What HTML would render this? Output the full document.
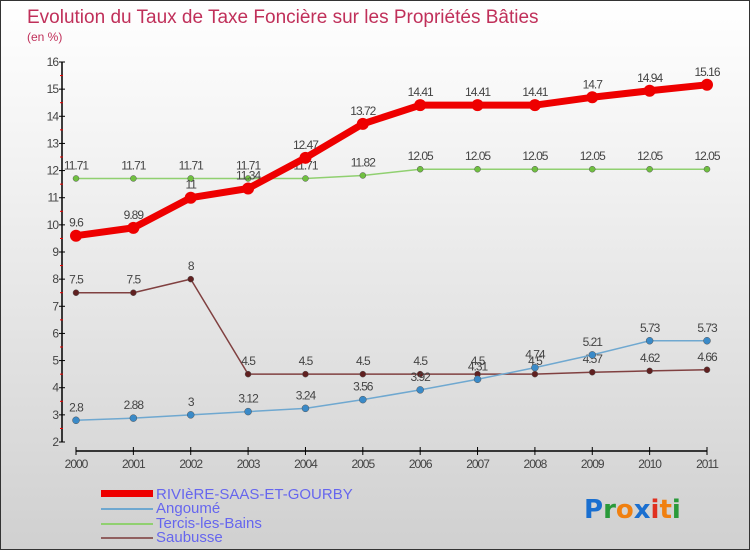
<!DOCTYPE html>
<html><head><meta charset="utf-8"><style>
body{margin:0}
#c{width:748px;height:548px;border:1px solid #333;background:linear-gradient(#fff,#f2f2f2 30%,#d0d0d0);position:relative;font-family:"Liberation Sans",sans-serif;overflow:hidden}
</style></head><body>
<div id="c">
<svg id="s" width="748" height="548" xmlns="http://www.w3.org/2000/svg">
<text x="26" y="22" font-size="19" fill="#c0305a">Evolution du Taux de Taxe Foncière sur les Propriétés Bâties</text>
<text x="26" y="40" font-size="12" fill="#c0305a">(en %)</text>
<g id="ax"></g><g id="ser"></g>
<g>
<rect x="100" y="489" width="52" height="7" fill="#e00"/>
<text x="155" y="498" font-size="15" fill="#6666ee">RIVIèRE-SAAS-ET-GOURBY</text>
<rect x="100" y="507" width="52" height="2" fill="#6fa8d0"/>
<text x="155" y="512" font-size="15" fill="#6666ee">Angoumé</text>
<rect x="100" y="522" width="52" height="2" fill="#90d070"/>
<text x="155" y="527" font-size="15" fill="#6666ee">Tercis-les-Bains</text>
<rect x="100" y="536" width="52" height="2" fill="#906060"/>
<text x="155" y="541" font-size="15" fill="#6666ee">Saubusse</text>
</g>
<g font-size="26" font-family="'DejaVu Sans',sans-serif" font-weight="bold">
<text x="583" y="517"><tspan fill="#1a6fd0">P</tspan><tspan fill="#2a9a3a">r</tspan><tspan fill="#f08010">o</tspan><tspan fill="#1a6fd0">x</tspan><tspan fill="#e03020">i</tspan><tspan fill="#f08010">t</tspan><tspan fill="#2a9a3a">i</tspan></text>
</g>
</svg></div>
<script>
const years=[2000,2001,2002,2003,2004,2005,2006,2007,2008,2009,2010,2011];
const riviere=[9.6,9.89,11,11.34,12.47,13.72,14.41,14.41,14.41,14.7,14.94,15.16];
const angoume=[2.8,2.88,3,3.12,3.24,3.56,3.92,4.31,4.74,5.21,5.73,5.73];
const tercis=[11.71,11.71,11.71,11.71,11.71,11.82,12.05,12.05,12.05,12.05,12.05,12.05];
const saubusse=[7.5,7.5,8,4.5,4.5,4.5,4.5,4.5,4.5,4.57,4.62,4.66];
const yTicks=[2,3,4,5,6,7,8,9,10,11,12,13,14,15,16];
const NS="http://www.w3.org/2000/svg";
const X=i=>75+i*(631/11);
const Y=v=>441-(v-2)*(380/14);
function mk(t,a,p){const e=document.createElementNS(NS,t);for(const k in a)e.setAttribute(k,a[k]);p.appendChild(e);return e;}
const ax=document.getElementById('ax'),ser=document.getElementById('ser');
const ya=mk('line',{x1:61,y1:Y(16),x2:61,y2:Y(2),stroke:'#000','stroke-width':1.5},ax);

const xa=mk('line',{x1:X(0),y1:450,x2:X(11),y2:450,stroke:'#000','stroke-width':1.5},ax);

yTicks.forEach(v=>{
 mk('line',{x1:58,y1:Y(v),x2:64,y2:Y(v),stroke:'#000'},ax);
 if(v<16)mk('line',{x1:59,y1:Y(v+0.5),x2:62,y2:Y(v+0.5),stroke:'#e00'},ax);
 const t=mk('text',{x:57,y:Y(v)+4,'text-anchor':'end','font-size':12,fill:'#444','letter-spacing':'-1'},ax);t.textContent=v;
 
});
years.forEach((y,i)=>{
 mk('line',{x1:X(i),y1:446,x2:X(i),y2:454,stroke:'#000'},ax);
 const t=mk('text',{x:X(i),y:467,'text-anchor':'middle','font-size':12,fill:'#444','letter-spacing':'-1'},ax);t.textContent=y;
 
});
function series(d,name,col,w,r,dot){
 const g=mk('g',{},ser);
 
 mk('polyline',{points:d.map((v,i)=>X(i)+','+Y(v)).join(' '),fill:'none',stroke:col,'stroke-width':w,'stroke-linejoin':'round'},g);
 d.forEach((v,i)=>{
  const c=mk('circle',{cx:X(i),cy:Y(v),r:r,fill:dot,stroke:'#555','stroke-width':r>4?0:0.5},g);
  
  const t=mk('text',{x:X(i),y:Y(v)-9,'text-anchor':'middle','font-size':12,fill:'#444','letter-spacing':'-1'},g);t.textContent=v;
  
 });
}
series(tercis,'tercis','#90d070',1.5,3,'#70c040');
series(saubusse,'saubusse','#804040',1.5,3,'#602020');
series(angoume,'angoume','#6fa8d0',1.5,3.5,'#3a8ac8');
series(riviere,'riviere','#e00',7,6,'#e00');
</script>
</body></html>
